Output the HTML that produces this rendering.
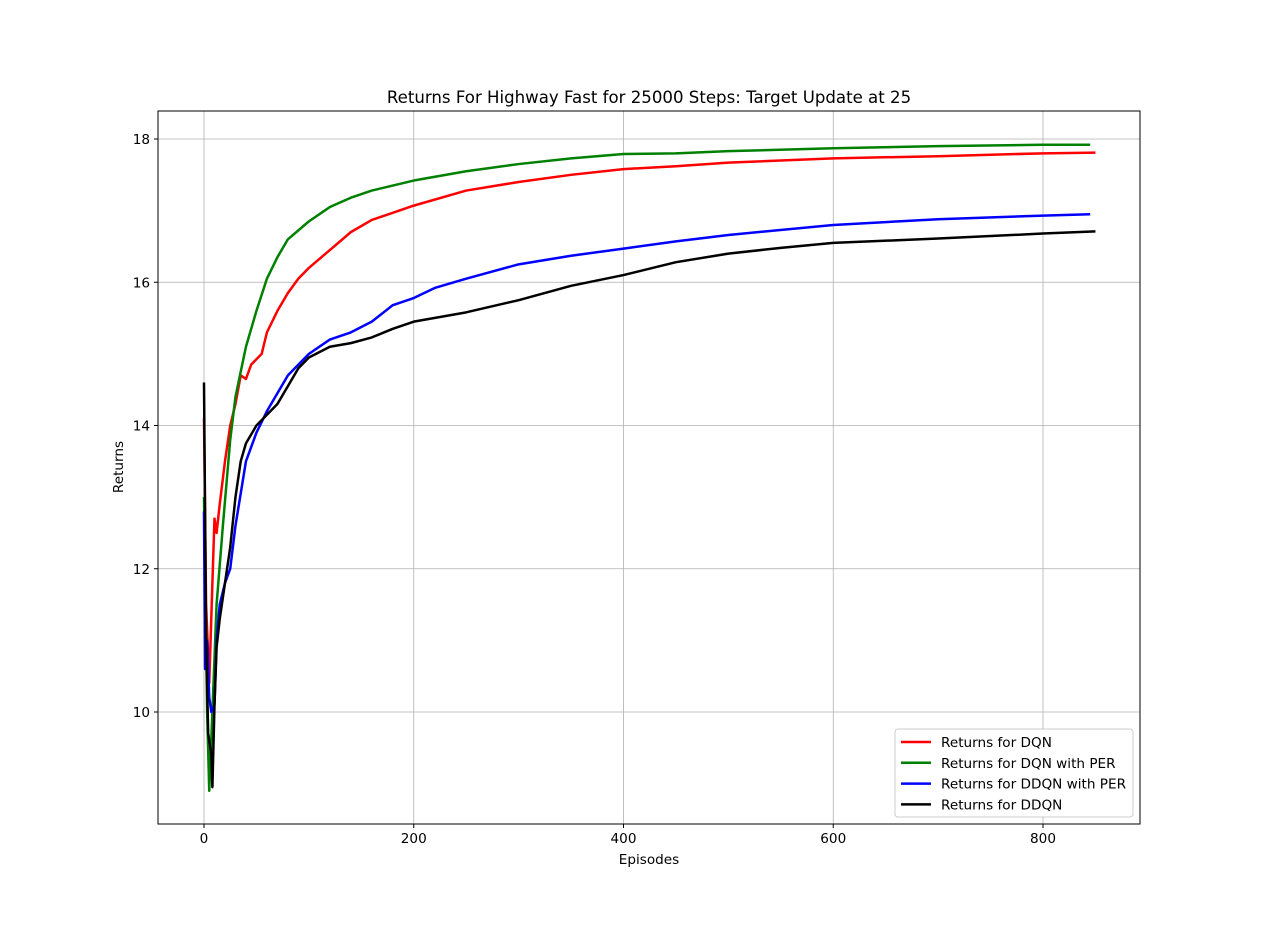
<!DOCTYPE html>
<html><head><meta charset="utf-8"><style>body{margin:0;background:#fff}svg{font-family:"DejaVu Sans","Liberation Sans",sans-serif}</style></head>
<body>
<svg id="c" width="1267" height="926"></svg>
<script>
const xTicks=[0,200,400,600,800];
const yTicks=[10,12,14,16,18];
const seriesNames=["Returns for DQN","Returns for DQN with PER","Returns for DDQN with PER","Returns for DDQN"];
const seriesColors=["#ff0000","#008000","#0000ff","#000000"];
const dqnX=[0,2,5,8,10,12,15,20,25,30,35,40,45,55,60,70,80,90,100,120,140,160,180,200,250,300,350,400,450,500,600,700,800,850];
const dqnY=[14.1,11.5,10.4,11.8,12.7,12.5,12.9,13.5,14.0,14.3,14.7,14.65,14.85,15.0,15.3,15.6,15.85,16.05,16.2,16.45,16.7,16.87,16.97,17.07,17.28,17.4,17.5,17.58,17.62,17.67,17.73,17.76,17.8,17.81];
const perX=[0,3,5,8,12,18,25,30,40,50,60,70,80,100,120,140,160,180,200,250,300,350,400,450,500,600,700,800,845];
const perY=[13,10,8.9,10,11.5,12.6,13.8,14.4,15.1,15.6,16.05,16.35,16.6,16.85,17.05,17.18,17.28,17.35,17.42,17.55,17.65,17.73,17.79,17.8,17.83,17.87,17.9,17.92,17.92];
const ddqnPerX=[0,1,3,5,7,10,12,15,20,25,30,40,50,60,70,80,90,100,120,140,160,180,200,220,250,300,350,400,450,500,600,700,800,845];
const ddqnPerY=[12.8,10.6,11.0,10.2,10.0,10.1,11.0,11.5,11.8,12.0,12.6,13.5,13.9,14.2,14.45,14.7,14.85,15.0,15.2,15.3,15.45,15.68,15.78,15.92,16.05,16.25,16.37,16.47,16.57,16.66,16.8,16.88,16.93,16.95];
const ddqnX=[0,2,4,7,8,10,12,15,20,25,30,35,40,50,60,70,80,90,100,120,140,160,180,200,250,300,350,400,450,500,550,600,700,800,850];
const ddqnY=[14.6,11.0,9.7,9.4,8.95,10.1,10.9,11.3,11.8,12.3,13.0,13.5,13.75,14.0,14.15,14.3,14.55,14.8,14.95,15.1,15.15,15.23,15.35,15.45,15.58,15.75,15.95,16.1,16.28,16.4,16.48,16.55,16.61,16.68,16.71];
const allX=[dqnX,perX,ddqnPerX,ddqnX], allY=[dqnY,perY,ddqnPerY,ddqnY];
const L=158,R=1140,T=111,B=824;
const sx=v=>204+(v-0)*(1043-204)/800;
const sy=v=>712-(v-10)*(712-139)/8;
const svg=document.getElementById('c');const NS="http://www.w3.org/2000/svg";
function mk(t,a,p){const e=document.createElementNS(NS,t);for(const k in a)e.setAttribute(k,a[k]);(p||svg).appendChild(e);return e;}
function txt(x,y,s,anchor,size,extra){const e=mk('text',Object.assign({x:x,y:y,'text-anchor':anchor,'font-size':size||13,fill:'#000'},extra||{}));e.textContent=s;return e;}
xTicks.forEach(v=>{const g=mk('line',{x1:sx(v),x2:sx(v),y1:T,y2:B,stroke:'#b0b0b0','stroke-width':0.8});


mk('line',{x1:sx(v),x2:sx(v),y1:B,y2:B+4,stroke:'#000'});
const t=txt(sx(v),B+19,String(v),'middle',13.6);

});
yTicks.forEach(v=>{const g=mk('line',{x1:L,x2:R,y1:sy(v),y2:sy(v),stroke:'#b0b0b0','stroke-width':0.8});


mk('line',{x1:L-4,x2:L,y1:sy(v),y2:sy(v),stroke:'#000'});
const t=txt(L-8,sy(v)+5,String(v),'end',13.6);

});
allX.forEach((xs,i)=>{const p=mk('polyline',{points:xs.map((x,j)=>sx(x)+','+sy(allY[i][j])).join(' '),fill:'none',stroke:seriesColors[i],'stroke-width':2.5,'stroke-linejoin':'round'});

});
const fr=mk('rect',{x:L,y:T,width:R-L,height:B-T,fill:'none',stroke:'#000','stroke-width':1});


const ti=txt((L+R)/2,103,'Returns For Highway Fast for 25000 Steps: Target Update at 25','middle',16.6);


const xl=txt((L+R)/2,864,'Episodes','middle',13.6);


const yl=txt(0,0,'Returns','middle',13.6,{transform:'translate(123,467) rotate(-90)'});


const lb=mk('rect',{x:895,y:729,width:238,height:88,rx:3,fill:'#fff',stroke:'#ccc'});


seriesNames.forEach((n,i)=>{const y=742+i*20.8;
const ln=mk('line',{x1:901,x2:931,y1:y,y2:y,stroke:seriesColors[i],'stroke-width':2.5});


const t=txt(941,y+5,n,'start',13.6);

});
</script>
</body></html>
